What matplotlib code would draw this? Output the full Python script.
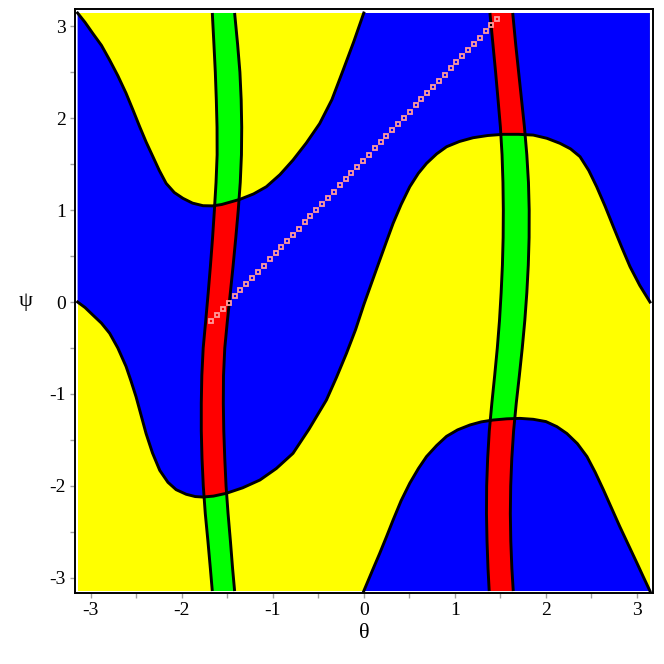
import numpy as np
import matplotlib
matplotlib.use("Agg")
import matplotlib.pyplot as plt
from matplotlib.patches import Polygon, PathPatch
from matplotlib.path import Path

plt.rcParams['axes.unicode_minus'] = False
plt.rcParams['font.family'] = ['Liberation Serif', 'DejaVu Serif']

# ---------------- data ----------------
# lower boundary curve (spans the whole theta range)
theta_lower = [-3.142, -3.06, -2.975, -2.88, -2.79, -2.70, -2.61, -2.555, -2.50, -2.445,
               -2.39, -2.32, -2.24, -2.15, -2.06, -1.95, -1.85, -1.765, -1.65, -1.51,
               -1.33, -1.14, -0.96, -0.777, -0.60, -0.41, -0.30, -0.19, -0.09, 0.0,
               0.09, 0.176, 0.25, 0.322, 0.41, 0.505, 0.60, 0.689, 0.80, 0.909,
               1.05, 1.20, 1.36, 1.53, 1.70, 1.86, 2.01, 2.154, 2.27, 2.374,
               2.47, 2.557, 2.65, 2.74, 2.83, 2.923, 3.03, 3.142]
psi_lower = [0.0, -0.06, -0.141, -0.23, -0.34, -0.50, -0.70, -0.86, -1.03, -1.23,
             -1.43, -1.64, -1.83, -1.96, -2.04, -2.09, -2.115, -2.12, -2.11, -2.08,
             -2.02, -1.935, -1.81, -1.645, -1.38, -1.065, -0.82, -0.558, -0.30, -0.03,
             0.22, 0.457, 0.66, 0.855, 1.06, 1.253, 1.40, 1.507, 1.61, 1.688,
             1.745, 1.786, 1.81, 1.823, 1.823, 1.815, 1.78, 1.725, 1.665, 1.58,
             1.43, 1.253, 1.04, 0.818, 0.60, 0.384, 0.18, 0.0]

# upper-left boundary curve
theta_upper = [-3.142, -3.06, -2.975, -2.88, -2.79, -2.70, -2.61, -2.535, -2.46, -2.39,
               -2.315, -2.245, -2.17, -2.08, -1.985, -1.88, -1.765, -1.66, -1.56, -1.36,
               -1.21, -1.07, -0.92, -0.777, -0.63, -0.484, -0.35, -0.227, -0.11, 0.0]
psi_upper = [3.142, 3.04, 2.92, 2.79, 2.63, 2.46, 2.27, 2.09, 1.905, 1.74,
             1.58, 1.43, 1.29, 1.19, 1.127, 1.075, 1.047, 1.045, 1.06, 1.116,
             1.175, 1.253, 1.385, 1.543, 1.73, 1.94, 2.20, 2.52, 2.83, 3.142]

# bottom-right boundary curve
theta_bottom = [0.0, 0.09, 0.176, 0.25, 0.322, 0.41, 0.505, 0.60, 0.689, 0.80,
                0.909, 1.03, 1.165, 1.29, 1.42, 1.57, 1.714, 1.86, 2.0, 2.12,
                2.23, 2.345, 2.45, 2.54, 2.63, 2.72, 2.81, 2.905, 3.0, 3.07, 3.142]
psi_bottom = [-3.142, -2.93, -2.73, -2.55, -2.37, -2.16, -1.97, -1.81, -1.68, -1.56,
              -1.46, -1.39, -1.337, -1.303, -1.283, -1.27, -1.265, -1.275, -1.30, -1.355,
              -1.43, -1.54, -1.68, -1.85, -2.04, -2.24, -2.44, -2.64, -2.84, -2.99, -3.142]

# bands: theta of both edges at given psi
psi_band = [3.142, 2.8, 2.5, 2.2, 1.9, 1.6, 1.3, 1.0, 0.7, 0.4, 0.1,
            -0.2, -0.5, -0.8, -1.1, -1.4, -1.7, -2.0, -2.3, -2.6, -2.9, -3.142]
band1_left = [-1.663, -1.645, -1.630, -1.619, -1.611, -1.610, -1.622, -1.640, -1.660, -1.683, -1.708,
              -1.735, -1.763, -1.778, -1.784, -1.784, -1.776, -1.762, -1.740, -1.711, -1.684, -1.663]
band1_right = [-1.418, -1.385, -1.360, -1.346, -1.340, -1.343, -1.356, -1.378, -1.405, -1.434, -1.465,
               -1.497, -1.526, -1.540, -1.542, -1.537, -1.526, -1.512, -1.490, -1.464, -1.440, -1.418]
band2_left = [1.385, 1.418, 1.447, 1.474, 1.500, 1.518, 1.528, 1.532, 1.530, 1.522, 1.508,
              1.490, 1.466, 1.437, 1.406, 1.378, 1.360, 1.349, 1.347, 1.353, 1.364, 1.377]
band2_right = [1.635, 1.668, 1.700, 1.732, 1.764, 1.790, 1.808, 1.816, 1.815, 1.806, 1.790,
               1.768, 1.740, 1.708, 1.674, 1.645, 1.625, 1.613, 1.609, 1.614, 1.626, 1.641]

# pink path of square markers
theta_path = [-1.674, -1.610, -1.546, -1.482, -1.418, -1.354, -1.289, -1.225, -1.161, -1.097,
              -1.033, -0.969, -0.905, -0.841, -0.777, -0.713, -0.649, -0.585, -0.521, -0.456,
              -0.392, -0.328, -0.264, -0.200, -0.136, -0.072, -0.008, 0.056, 0.120, 0.184,
              0.248, 0.312, 0.377, 0.441, 0.505, 0.569, 0.633, 0.697, 0.761, 0.825,
              0.889, 0.953, 1.017, 1.081, 1.145, 1.210, 1.274, 1.338, 1.402, 1.466]
psi_path = [-0.207, -0.140, -0.073, -0.006, 0.061, 0.128, 0.195, 0.262, 0.329, 0.396,
            0.463, 0.530, 0.597, 0.664, 0.731, 0.798, 0.865, 0.932, 0.999, 1.066,
            1.133, 1.200, 1.267, 1.334, 1.401, 1.468, 1.535, 1.602, 1.669, 1.736,
            1.803, 1.870, 1.937, 2.004, 2.071, 2.138, 2.205, 2.272, 2.339, 2.406,
            2.473, 2.540, 2.607, 2.674, 2.741, 2.808, 2.875, 2.942, 3.009, 3.076]

ticks_major = [-3, -2, -1, 0, 1, 2, 3]
tick_labels = ['-3', '-2', '-1', '0', '1', '2', '3']
ticks_minor = [-2.5, -1.5, -0.5, 0.5, 1.5, 2.5]

# ---------------- styles ----------------
YELLOW = '#ffff00'
BLUE = '#0000ff'
RED = '#ff0000'
GREEN = '#00ff00'
PINK = '#ff9c9c'
LW = 2.1
PI = np.pi

fig = plt.figure(figsize=(6.64, 6.64), dpi=100)
ax = fig.add_axes([0.113, 0.1074, 0.8704, 0.8783])

# background (yellow domain)
ax.add_patch(Polygon([(-PI, -PI), (PI, -PI), (PI, PI), (-PI, PI)], closed=True,
                     facecolor=YELLOW, edgecolor='none', zorder=1))

# blue regions
blue1 = list(zip(theta_upper, psi_upper)) + [(PI, PI)] + \
    list(zip(theta_lower[::-1], psi_lower[::-1]))
blue2 = list(zip(theta_bottom, psi_bottom))
ax.add_patch(Polygon(blue1, closed=True, facecolor=BLUE, edgecolor='none', zorder=2))
ax.add_patch(Polygon(blue2, closed=True, facecolor=BLUE, edgecolor='none', zorder=2))

blue_path = Path.make_compound_path(Path(np.array(blue1 + [blue1[0]]), closed=True),
                                    Path(np.array(blue2 + [blue2[0]]), closed=True))
clip_patch = PathPatch(blue_path, transform=ax.transData, facecolor='none', edgecolor='none')
ax.add_patch(clip_patch)

for left, right in [(band1_left, band1_right), (band2_left, band2_right)]:
    verts = list(zip(left, psi_band)) + list(zip(right[::-1], psi_band[::-1]))
    ax.add_patch(Polygon(verts, closed=True, facecolor=GREEN, edgecolor='none', zorder=3))
    r = Polygon(verts, closed=True, facecolor=RED, edgecolor='none', zorder=4)
    ax.add_patch(r)
    r.set_clip_path(clip_patch)
    ax.plot(left, psi_band, color='black', lw=LW, zorder=6, solid_capstyle='butt')
    ax.plot(right, psi_band, color='black', lw=LW, zorder=6, solid_capstyle='butt')

for tx, py in [(theta_lower, psi_lower), (theta_upper, psi_upper), (theta_bottom, psi_bottom)]:
    ax.plot(tx, py, color='black', lw=LW, zorder=6, solid_joinstyle='round')

ax.plot(theta_path, psi_path, linestyle='none', marker='s', markersize=2.6,
        markerfacecolor='none', markeredgecolor=PINK, markeredgewidth=1.3, zorder=7)

ax.set_xlim(-3.17, 3.175)
ax.set_ylim(-3.16, 3.18)

ax.set_xticks(ticks_major)
ax.set_xticklabels(tick_labels)
ax.set_yticks(ticks_major)
ax.set_yticklabels(tick_labels)
ax.set_xticks(ticks_minor, minor=True)
ax.set_yticks(ticks_minor, minor=True)
ax.tick_params(which='both', direction='out', length=3.5, width=1.0, color='#a0a0a0',
               labelsize=14, pad=3)

for s in ax.spines.values():
    s.set_linewidth(1.4)
    s.set_color('black')

ax.set_xlabel('θ', fontsize=16, labelpad=4)
ax.set_ylabel('ψ', fontsize=16, rotation=0, labelpad=17, va='center')

fig.savefig('out.png', dpi=100)
